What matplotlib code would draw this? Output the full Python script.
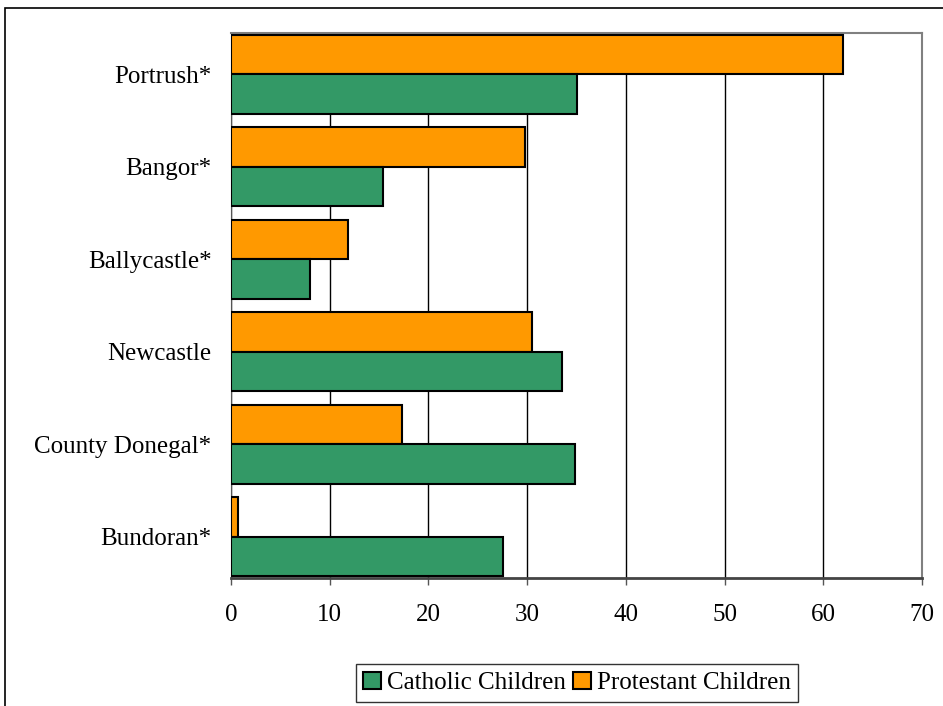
import matplotlib.pyplot as plt
from matplotlib.patches import Rectangle

towns = ['Portrush*', 'Bangor*', 'Ballycastle*', 'Newcastle', 'County Donegal*', 'Bundoran*']
catholic = [35.0, 15.4, 8.0, 33.5, 34.8, 27.6]
protestant = [62.0, 29.8, 11.8, 30.5, 17.3, 0.7]

plt.rcParams['font.family'] = ['Liberation Serif', 'DejaVu Serif']

fig = plt.figure(figsize=(9.43, 7.06), dpi=100)
ax = fig.add_axes([0.245, 0.1813, 0.7327, 0.772])

h = 0.4275
pos = list(range(len(towns)))
ax.barh([p - h / 2 for p in pos], protestant, height=h, color='#FF9900',
        edgecolor='black', linewidth=1.5, label='Protestant Children', zorder=3)
ax.barh([p + h / 2 for p in pos], catholic, height=h, color='#339966',
        edgecolor='black', linewidth=1.5, label='Catholic Children', zorder=3)

ax.set_xlim(0, 70)
ax.set_ylim(len(towns) - 1 + h + 0.02, -h - 0.02)
ax.set_xticks(range(0, 71, 10))
ax.set_yticks(pos)
ax.set_yticklabels(towns)
ax.tick_params(axis='y', length=0, pad=14, labelsize=18)
ax.tick_params(axis='x', length=5, width=1, color='#555555', pad=14, labelsize=18)
ax.grid(axis='x', color='black', linewidth=1, zorder=0)

for side in ['top', 'right']:
    ax.spines[side].set_color('#808080')
    ax.spines[side].set_linewidth(1.5)
ax.spines['left'].set_color('#555555')
ax.spines['bottom'].set_color('#444444')
ax.spines['bottom'].set_linewidth(2)

# outer chart frame, open at the right and bottom
fig.add_artist(Rectangle((5 / 943, -0.1), 1.2, 1 - 8 / 706 + 0.1,
                         transform=fig.transFigure, fill=False,
                         edgecolor='black', linewidth=1.2))

handles, labels = ax.get_legend_handles_labels()
leg = fig.legend(handles[::-1], labels[::-1], loc='center',
                 bbox_to_anchor=(577 / 943, 1 - 683 / 706), ncol=2,
                 fontsize=18, frameon=True, fancybox=False, shadow=False,
                 handlelength=0.7, handleheight=0.7, handletextpad=0.25,
                 columnspacing=0.3, borderpad=0.3, borderaxespad=0)
leg.get_frame().set_edgecolor('black')
leg.get_frame().set_linewidth(1)

fig.savefig('out.png', dpi=100)
